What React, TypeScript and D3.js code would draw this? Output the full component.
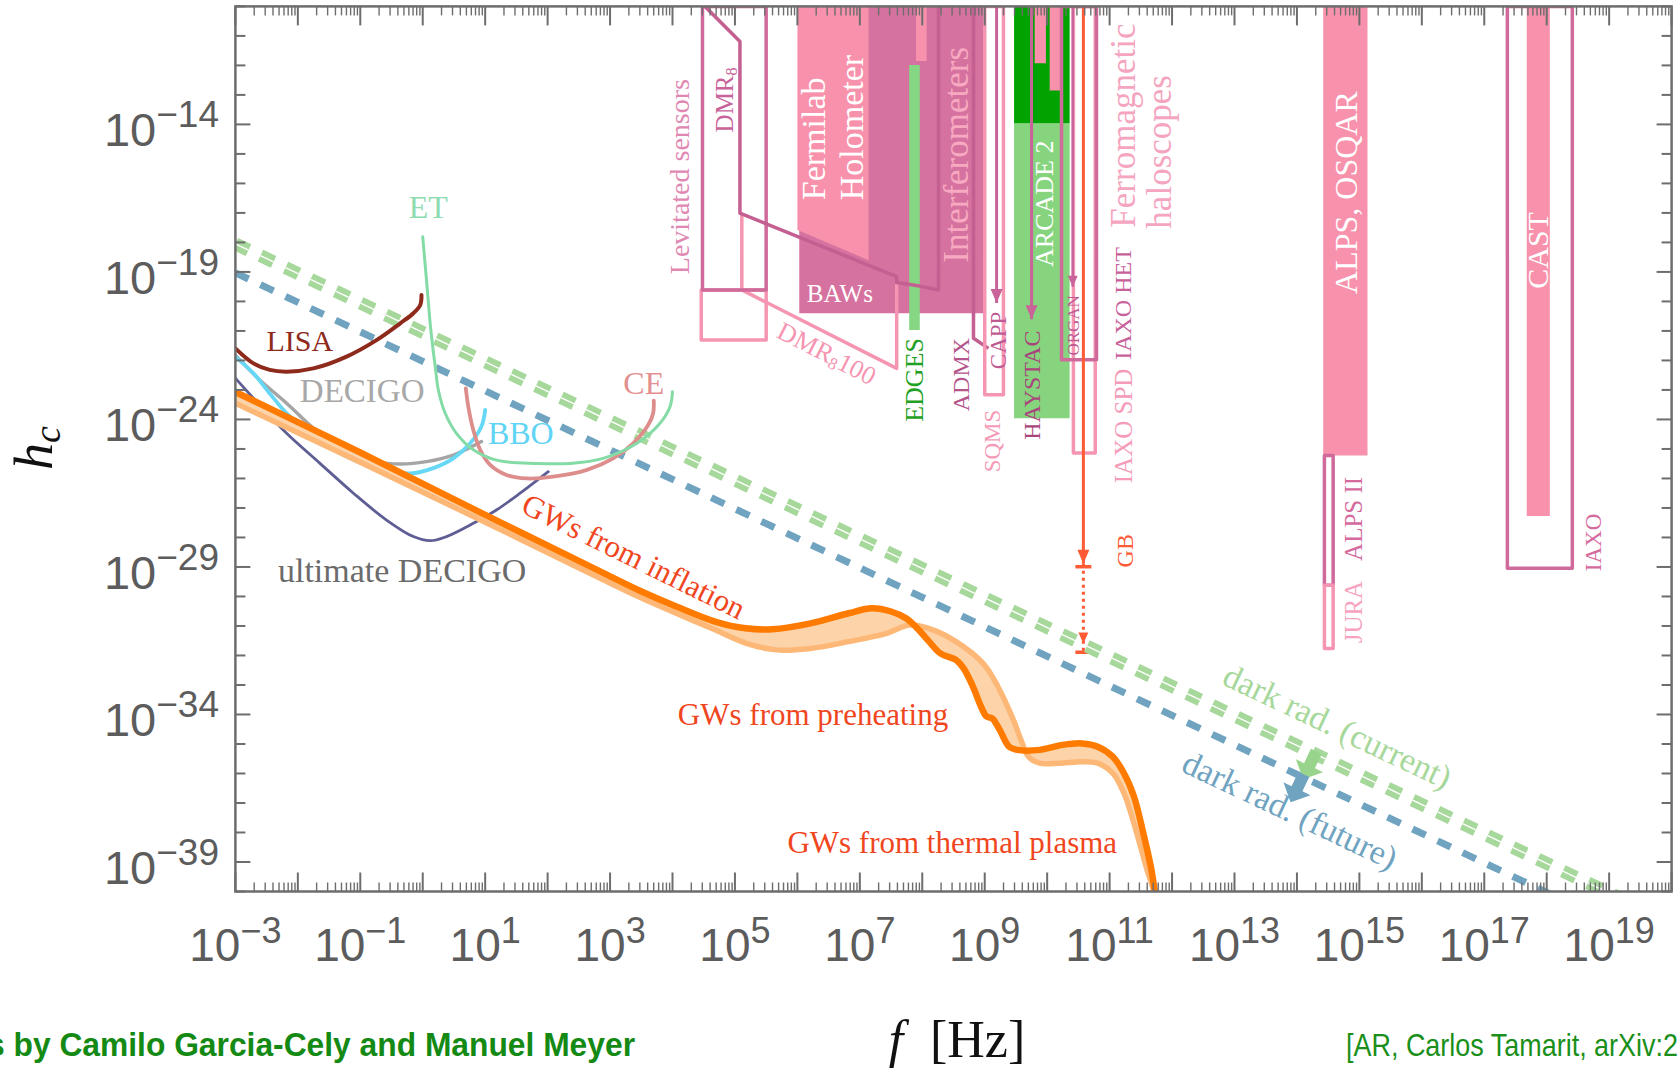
import React from 'react';
import * as d3 from 'd3';

const W = 1678;
const H = 1074;
const frame = { left: 235.4, right: 1671.6, top: 6.4, bottom: 891.5 };

// every point is [log10(f / Hz), log10(h_c)]
const lisa = [[-3.0, -21.59], [-2.71, -22.1], [-2.45, -22.32], [-2.18, -22.38], [-1.75, -22.27], [-1.22, -21.87], [-0.74, -21.31], [-0.36, -20.74], [-0.15, -20.4], [-0.04, -20.12], [-0.02, -19.78]];
const et = [[0.0, -17.81], [0.06, -19.27], [0.13, -20.97], [0.2, -22.21], [0.25, -23.0], [0.36, -23.79], [0.54, -24.47], [0.81, -25.03], [1.18, -25.38], [1.82, -25.49], [2.36, -25.49], [2.89, -25.32], [3.43, -24.81], [3.8, -24.13], [3.96, -23.57], [4.0, -23.06]];
const ce = [[0.69, -22.95], [0.73, -23.57], [0.81, -24.36], [0.92, -25.03], [1.08, -25.54], [1.34, -25.88], [1.67, -26.0], [2.09, -25.94], [2.63, -25.71], [3.05, -25.32], [3.37, -24.81], [3.61, -24.19], [3.69, -23.79], [3.7, -23.36]];
const bbo = [[-3.0, -21.87], [-2.71, -22.44], [-2.45, -23.12], [-2.18, -23.79], [-1.75, -24.58], [-1.22, -25.26], [-0.74, -25.65], [-0.2, -25.83], [0.17, -25.65], [0.49, -25.32], [0.76, -24.81], [0.94, -24.24], [1.0, -23.68]];
const decigo = [[-3.0, -21.83], [-2.93, -21.98], [-2.61, -22.66], [-2.18, -23.45], [-1.65, -24.47], [-1.11, -25.15], [-0.74, -25.43], [-0.36, -25.51], [0.06, -25.43], [0.49, -25.21], [0.94, -24.75]];
const ultimateDecigo = [[-3.0, -22.6], [-2.93, -22.77], [-2.61, -23.51], [-2.18, -24.47], [-1.65, -25.48], [-1.11, -26.5], [-0.58, -27.41], [-0.15, -27.97], [0.12, -28.11], [0.38, -27.97], [0.81, -27.52], [1.18, -27.07], [1.56, -26.5], [2.01, -25.77]];

// GW spectrum band (upper / lower edge)
const gwUpper = [[-3.0, -23.07], [-1.0, -25.12], [0.92, -27.15], [2.84, -29.15], [3.45, -29.78], [4.06, -30.34], [4.68, -30.85], [5.17, -31.08], [5.6, -31.11], [6.21, -30.91], [6.82, -30.57], [7.19, -30.4], [7.5, -30.51], [7.74, -30.74], [7.92, -31.08], [8.11, -31.53], [8.29, -31.93], [8.54, -32.15], [8.66, -32.43], [8.81, -33.05], [8.94, -33.73], [9.03, -34.07], [9.12, -34.13], [9.24, -34.52], [9.39, -35.09], [9.52, -35.2], [9.88, -35.2], [10.25, -35.03], [10.56, -34.98], [10.81, -35.09], [11.05, -35.43], [11.23, -35.99], [11.39, -36.78], [11.54, -38.03], [11.66, -39.16], [11.72, -39.95], [11.75, -40.4]];
const gwLower = [[-3.0, -23.45], [-1.0, -25.45], [0.92, -27.4], [2.84, -29.38], [3.45, -30.0], [4.06, -30.57], [4.68, -31.13], [5.17, -31.58], [5.66, -31.81], [6.21, -31.76], [6.82, -31.53], [7.43, -31.25], [7.8, -30.97], [8.17, -31.13], [8.54, -31.53], [8.97, -32.26], [9.21, -33.05], [9.46, -34.19], [9.58, -34.86], [9.7, -35.43], [9.88, -35.65], [10.19, -35.65], [10.56, -35.6], [10.81, -35.65], [11.05, -35.99], [11.23, -36.67], [11.42, -37.91], [11.6, -39.27], [11.72, -40.06], [11.75, -40.4]];

const darkRadCurrent = [[-3.0, -18.05], [19.5, -40.55]];
const darkRadFuture = [[-3.0, -19.03], [18.5, -40.53]];

// experiments
const levitatedBox = [[4.48, -10], [5.5, -10], [5.5, -19.61], [4.48, -19.61]];
const levitatedFuture = [[4.46, -19.61], [5.5, -19.61], [5.5, -21.31], [4.46, -21.31]];
const dmr8 = [[4.52, -10], [5.08, -11.19], [5.08, -17.01], [7.59, -19.16], [7.59, -19.36], [7.96, -19.48], [8.26, -19.61], [8.26, -10]];
const dmr8x100 = [[5.11, -17.01], [5.11, -19.61], [7.59, -22.27], [7.59, -19.39]];
const fermilab = [[6.0, -10], [7.14, -10], [7.14, -18.6], [6.0, -17.58]];
const baws = [[6.03, -10], [8.98, -10], [8.98, -20.4], [6.03, -20.4]];
const interfBar = [[7.9, -10], [8.07, -10], [8.07, -11.85], [7.9, -11.85]];
const edges = [[7.79, -11.99], [7.96, -11.99], [7.96, -20.97], [7.79, -20.97]];
const admx = [[8.82, -10], [8.82, -21.25], [9.06, -21.59]];
const sqms = [[9.0, -10], [9.3, -10], [9.3, -23.16], [9.0, -23.16]];
const capp = [[9.19, -10], [9.19, -20.05]];
const haystac = [[9.75, -10], [9.75, -20.6]];
const organ = [[10.41, -10], [10.41, -19.5]];
const arcadeStrong = [[9.47, -10], [10.36, -10], [10.36, -13.96], [9.47, -13.96]];
const arcadeWeak = [[9.47, -13.96], [10.36, -13.96], [10.36, -23.96], [9.47, -23.96]];
const arcadeBar1 = [[9.8, -10], [9.98, -10], [9.98, -11.93], [9.8, -11.93]];
const arcadeBar2 = [[10.04, -10], [10.22, -10], [10.22, -12.85], [10.04, -12.85]];
const iaxoHet = [[10.23, -10], [10.79, -10], [10.79, -21.98], [10.23, -21.98]];
const iaxoSpd = [[10.42, -10], [10.77, -10], [10.77, -25.14], [10.42, -25.14]];
const gbSolid = [[10.58, -10], [10.58, -28.89]];
const gbDotted = [[10.58, -28.89], [10.58, -31.89]];
const alpsOsqar = [[14.42, -10], [15.13, -10], [15.13, -25.22], [14.42, -25.22]];
const alpsII = [[14.44, -25.22], [14.58, -25.22], [14.58, -29.62], [14.44, -29.62]];
const jura = [[14.44, -29.62], [14.58, -29.62], [14.58, -31.76], [14.44, -31.76]];
const iaxo = [[17.37, -10], [18.41, -10], [18.41, -29.04], [17.37, -29.04]];
const cast = [[17.68, -10], [18.05, -10], [18.05, -27.27], [17.68, -27.27]];

const xLabelExps = [-3, -1, 1, 3, 5, 7, 9, 11, 13, 15, 17, 19];
const yLabelExps = [-14, -19, -24, -29, -34, -39];

const serif = "'Liberation Serif', 'Times New Roman', serif";
const sans = "'Liberation Sans', Arial, sans-serif";

const darkPink = '#cf6a9b';
const lightPink = '#f595b2';
const fillPink = '#f892ac';
const midPink = '#d6729f';
const gwRed = '#f0461e';

export default function App() {
  const x = d3.scaleLog().domain([1e-3, 1e20]).range([frame.left, frame.right]);
  const y = d3.scaleLog().domain([1e-10, 1e-40]).range([frame.top, frame.bottom]);
  const px = (p) => x(Math.pow(10, p[0]));
  const py = (p) => y(Math.pow(10, p[1]));
  const smooth = d3.line().x(px).y(py).curve(d3.curveCatmullRom.alpha(0.5));
  const straight = d3.line().x(px).y(py);
  const closed = (pts) => straight(pts) + 'Z';

  const upperPath = smooth(gwUpper);
  const lowerRev = smooth([...gwLower].reverse());
  const bandPath = upperPath + 'L' + lowerRev.slice(1) + 'Z';

  const arrowDown = (p, color, w = 6, len = 14) => {
    const X = px(p), Y = py(p);
    return <polygon points={`${X},${Y} ${X - w},${Y - len} ${X + w},${Y - len}`} fill={color} />;
  };

  // block arrow pointing away from a dark-radiation line, perpendicular to it
  const perpArrow = (seg, lf, color) => {
    const a = [px(seg[0]), py(seg[0])];
    const b = [px(seg[1]), py(seg[1])];
    const ang = Math.atan2(b[1] - a[1], b[0] - a[0]);
    const t = (lf - seg[0][0]) / (seg[1][0] - seg[0][0]);
    const X = a[0] + t * (b[0] - a[0]);
    const Y = a[1] + t * (b[1] - a[1]);
    const nx = -Math.sin(ang), ny = Math.cos(ang);
    const tx = Math.cos(ang), ty = Math.sin(ang);
    const sh = 13, head = 15, hw = 15, sw = 6;
    const p = (d, s) => `${X + nx * d + tx * s},${Y + ny * d + ty * s}`;
    return (
      <polygon
        points={[p(-3, -sw), p(sh, -sw), p(sh, -hw), p(sh + head, 0), p(sh, hw), p(sh, sw), p(-3, sw)].join(' ')}
        fill={color}
      />
    );
  };

  const label = (key, at, text, opts) => {
    const { size = 30, color = '#333', rot = 0, font = serif, weight = 'normal', anchor = 'middle' } = opts;
    const X = px(at), Y = py(at);
    return (
      <text key={key} transform={`translate(${X},${Y}) rotate(${rot})`} textAnchor={anchor}
        dominantBaseline="central" fontFamily={font} fontSize={size} fill={color} fontWeight={weight}>
        {text}
      </text>
    );
  };

  const xMajor = d3.range(-3, 21);
  const xMinor = d3.range(-3, 20).flatMap((k) => d3.range(2, 10).map((m) => Math.log10(m) + k));
  const yMajor = d3.range(-40, -9);
  const tickColor = '#6d6d6d';
  const slope = (Math.atan2(py([1, -11]) - py([0, -10]), px([1, -11]) - px([0, -10])) * 180) / Math.PI;

  return (
    <svg width={W} height={H} style={{ position: 'absolute', left: 0, top: 0, background: '#fff' }}>
      <defs>
        <clipPath id="plotArea">
          <rect x={frame.left} y={frame.top} width={frame.right - frame.left} height={frame.bottom - frame.top} />
        </clipPath>
      </defs>

      <g clipPath="url(#plotArea)">
        {/* filled experiment regions */}
        <path d={closed(baws)} fill={midPink} />
        <path d={closed(fermilab)} fill={fillPink} />
        <path d={closed(interfBar)} fill={fillPink} />
        <path d={closed(edges)} fill="#86d783" />
        <path d={closed(arcadeWeak)} fill="#86d47e" />
        <path d={closed(arcadeStrong)} fill="#00a300" />
        <path d={closed(arcadeBar1)} fill={fillPink} />
        <path d={closed(arcadeBar2)} fill={fillPink} />
        <path d={closed(alpsOsqar)} fill={fillPink} />
        <path d={closed(cast)} fill={fillPink} />

        {/* outlined experiment regions */}
        <g fill="none" strokeWidth={3.5} strokeLinejoin="round">
          <path d={closed(levitatedFuture)} stroke={lightPink} />
          <path d={straight(dmr8x100)} stroke={lightPink} />
          <path d={closed(levitatedBox)} stroke={darkPink} />
          <path d={straight(dmr8)} stroke="#c45f92" />
          <path d={straight(admx)} stroke="#c45f92" />
          <path d={closed(sqms)} stroke={lightPink} />
          <path d={closed(iaxoSpd)} stroke={lightPink} />
          <path d={closed(iaxoHet)} stroke={darkPink} />
          <path d={closed(alpsII)} stroke={darkPink} />
          <path d={closed(jura)} stroke={lightPink} />
          <path d={closed(iaxo)} stroke={darkPink} />
          <path d={straight(capp)} stroke="#c9649a" strokeWidth={3} />
          <path d={straight(haystac)} stroke="#c9649a" strokeWidth={3} />
          <path d={straight(organ)} stroke="#c9649a" strokeWidth={2.5} />
        </g>
        {arrowDown(capp[1], '#c9649a')}
        {arrowDown(haystac[1], '#c9649a')}
        {arrowDown(organ[1], '#c9649a', 5, 11)}

        {/* GB */}
        <path d={straight(gbSolid)} stroke="#ff5a36" strokeWidth={3} fill="none" />
        {arrowDown(gbSolid[1], '#ff5a36', 6, 14)}
        <line x1={px(gbSolid[1]) - 8} x2={px(gbSolid[1]) + 8} y1={py(gbSolid[1]) + 3} y2={py(gbSolid[1]) + 3} stroke="#ff5a36" strokeWidth={3.5} />
        <path d={straight(gbDotted)} stroke="#ff5a36" strokeWidth={3} strokeDasharray="3 4" fill="none" />
        {arrowDown([gbDotted[1][0], gbDotted[1][1] + 0.3], '#ff5a36', 5, 11)}
        <line x1={px(gbDotted[1]) - 8} x2={px(gbDotted[1]) + 8} y1={py(gbDotted[1])} y2={py(gbDotted[1])} stroke="#ff5a36" strokeWidth={3.5} />

        {/* dark radiation bounds */}
        <path d={straight(darkRadCurrent)} stroke="#a7d89b" strokeWidth={13} strokeDasharray="14.5 13.2" fill="none" />
        <path d={straight(darkRadCurrent)} stroke="#ffffff" strokeWidth={1.4} strokeDasharray="14.5 13.2" fill="none" />
        <path d={straight(darkRadFuture)} stroke="#6fa3bf" strokeWidth={7} strokeDasharray="14.5 13.2" fill="none" />
        {perpArrow(darkRadCurrent, 14.29, '#98d48b')}
        {perpArrow(darkRadFuture, 14.09, '#6fa3bf')}

        {/* detector sensitivity curves */}
        <g fill="none" strokeLinecap="round">
          <path d={smooth(decigo)} stroke="#a5a5a5" strokeWidth={3.5} />
          <path d={smooth(ultimateDecigo)} stroke="#5e5e95" strokeWidth={2.8} />
          <path d={smooth(bbo)} stroke="#66d8f6" strokeWidth={3.8} />
          <path d={smooth(ce)} stroke="#dd8e8c" strokeWidth={3.8} />
          <path d={smooth(et)} stroke="#84dba6" strokeWidth={3} />
          <path d={smooth(lisa)} stroke="#8e2a1c" strokeWidth={4} />
        </g>

        {/* GW band */}
        <path d={bandPath} fill="#fdd3a9" />
        <path d={smooth(gwLower)} stroke="#fdb877" strokeWidth={5.5} fill="none" />
        <path d={smooth(gwUpper)} stroke="#ff7b00" strokeWidth={6.5} fill="none" />
      </g>

      {/* labels */}
      <g>
        {label('lisa', [-1.97, -21.31], 'LISA', { size: 30, color: '#8e2a1c' })}
        {label('decigo', [-0.97, -23.02], 'DECIGO', { size: 33, color: '#a8a8a8' })}
        {label('bbo', [1.57, -24.47], 'BBO', { size: 32, color: '#5fd4f4' })}
        {label('et', [0.09, -16.8], 'ET', { size: 32, color: '#8ddcb0' })}
        {label('ce', [3.54, -22.77], 'CE', { size: 32, color: '#e39090' })}
        {label('udecigo', [-0.33, -29.13], 'ultimate DECIGO', { size: 34, color: '#6b6b6b' })}
        {label('infl', [3.38, -28.64], 'GWs from inflation', { size: 31, color: gwRed, rot: slope * 1.04 })}
        {label('preh', [6.25, -34.01], 'GWs from preheating', { size: 31, color: gwRed })}
        {label('therm', [8.48, -38.33], 'GWs from thermal plasma', { size: 31, color: gwRed })}
        {label('drc', [14.65, -34.4], 'dark rad. (current)', { size: 34, color: '#a7d89b', rot: slope })}
        {label('drf', [13.89, -37.24], 'dark rad. (future)', { size: 34, color: '#6fa3bf', rot: slope })}

        {label('lev', [4.12, -15.77], 'Levitated sensors', { size: 28, color: '#e088b2', rot: -90 })}
        <text transform={`translate(${px([4.84, -13.17])},${py([4.84, -13.17])}) rotate(-90)`} textAnchor="middle"
          dominantBaseline="central" fontFamily={serif} fontSize={25} fill="#c9649a">
          DMR<tspan fontSize={16} dy={6}>8</tspan>
        </text>
        <text transform={`translate(${px([6.47, -21.76])},${py([6.47, -21.76])}) rotate(27)`} textAnchor="middle"
          dominantBaseline="central" fontFamily={serif} fontSize={26} fill="#f595b2">
          DMR<tspan fontSize={17} dy={6}>8</tspan><tspan dy={-6}>100</tspan>
        </text>
        <text transform={`translate(${px([6.25, -16.57])},${py([6.25, -16.57])}) rotate(-90)`} dominantBaseline="central"
          fontFamily={serif} fontSize={34} fill="#fff">Fermilab</text>
        <text transform={`translate(${px([6.87, -16.57])},${py([6.87, -16.57])}) rotate(-90)`} dominantBaseline="central"
          fontFamily={serif} fontSize={34} fill="#fff">Holometer</text>
        {label('baws', [6.68, -19.72], 'BAWs', { size: 25, color: '#fff' })}
        {label('interf', [8.55, -15.03], 'Interferometers', { size: 35, color: '#f6a9c1', rot: -90 })}
        {label('edges', [7.88, -22.66], 'EDGES', { size: 26, color: '#22a022', rot: -90 })}
        {label('admx', [8.62, -22.48], 'ADMX', { size: 24, color: '#b4558b', rot: -90 })}
        {label('sqms', [9.13, -24.73], 'SQMS', { size: 23, color: '#f59ab8', rot: -90 })}
        {label('capp', [9.22, -21.32], 'CAPP', { size: 23, color: '#c05a92', rot: -90 })}
        {label('haystac', [9.75, -22.84], 'HAYSTAC', { size: 24, color: '#a8467c', rot: -90 })}
        {label('arcade', [9.96, -16.69], 'ARCADE 2', { size: 26, color: '#fff', rot: -90 })}
        {label('organ', [10.42, -20.81], 'ORGAN', { size: 17, color: '#c05a92', rot: -90 })}
        {label('iaxospd', [11.22, -24.22], 'IAXO SPD', { size: 25, color: '#f59ab8', rot: -90 })}
        {label('iaxohet', [11.22, -20.07], 'IAXO HET', { size: 24, color: '#c8609a', rot: -90 })}
        {label('ferro', [11.22, -14.04], 'Ferromagnetic', { size: 35, color: '#f5a5c0', rot: -90 })}
        {label('halo', [11.8, -14.93], 'haloscopes', { size: 35, color: '#f5a5c0', rot: -90 })}
        {label('gb', [11.24, -28.45], 'GB', { size: 24, color: '#ff5a36', rot: -90 })}
        {label('alps', [14.79, -16.31], 'ALPS, OSQAR', { size: 32, color: '#fff', rot: -90 })}
        {label('alps2', [14.9, -27.37], 'ALPS II', { size: 25, color: '#d46a9e', rot: -90 })}
        {label('jura', [14.9, -30.53], 'JURA', { size: 25, color: '#f7a3bf', rot: -90 })}
        {label('cast', [17.86, -18.27], 'CAST', { size: 30, color: '#fff', rot: -90 })}
        {label('iaxo', [18.75, -28.17], 'IAXO', { size: 23, color: '#d46a9e', rot: -90 })}
      </g>

      {/* frame and ticks */}
      <g stroke={tickColor}>
        {xMajor.map((k) => {
          const X = x(Math.pow(10, k));
          return (
            <g key={'xM' + k} strokeWidth={2}>
              <line x1={X} x2={X} y1={frame.bottom} y2={frame.bottom - 19} />
              <line x1={X} x2={X} y1={frame.top} y2={frame.top + 19} />
            </g>
          );
        })}
        {xMinor.map((k, i) => {
          const X = x(Math.pow(10, k));
          return (
            <g key={'xm' + i} strokeWidth={1.4}>
              <line x1={X} x2={X} y1={frame.bottom} y2={frame.bottom - 9} />
              <line x1={X} x2={X} y1={frame.top} y2={frame.top + 9} />
            </g>
          );
        })}
        {yMajor.map((k) => {
          const Y = y(Math.pow(10, k));
          const len = yLabelExps.includes(k) ? 15 : 10;
          return (
            <g key={'y' + k} strokeWidth={2}>
              <line x1={frame.left} x2={frame.left + len} y1={Y} y2={Y} />
              <line x1={frame.right} x2={frame.right - len} y1={Y} y2={Y} />
            </g>
          );
        })}
        <rect x={frame.left} y={frame.top} width={frame.right - frame.left} height={frame.bottom - frame.top}
          fill="none" strokeWidth={2.5} />
      </g>

      {/* tick labels */}
      <g fontFamily={sans} fill="#5c5c5c">
        {xLabelExps.map((k) => (
          <text key={'xl' + k} x={x(Math.pow(10, k))} y={961} textAnchor="middle" fontSize={46}>
            10<tspan dy={-18} fontSize={36}>{String(k).replace('-', '\u2212')}</tspan>
          </text>
        ))}
        {yLabelExps.map((k) => (
          <text key={'yl' + k} x={219} y={y(Math.pow(10, k)) + 22} textAnchor="end" fontSize={47}>
            10<tspan dy={-19} fontSize={37}>{String(k).replace('-', '\u2212')}</tspan>
          </text>
        ))}
      </g>

      {/* axis titles */}
      <text x={896} y={1057} textAnchor="middle" fontFamily={serif} fontStyle="italic" fontSize={52} fill="#111">f</text>
      <text x={930} y={1057} fontFamily={serif} fontSize={52} fill="#111">[Hz]</text>
      <text transform="translate(52,448) rotate(-90)" textAnchor="middle" fontFamily={serif} fontStyle="italic" fontSize={54} fill="#111">
        h<tspan fontSize={38} dy={8}>c</tspan>
      </text>

      {/* credits, clipped by the page edge as in the original slide */}
      <text x={-13} y={1056} fontFamily={sans} fontWeight="bold" fontSize={34} fill="#148a14"
        textLength={648} lengthAdjust="spacingAndGlyphs">s by Camilo Garcia-Cely and Manuel Meyer</text>
      <text x={1346} y={1056} fontFamily={sans} fontSize={32} fill="#1a8f1a"
        textLength={332} lengthAdjust="spacingAndGlyphs">[AR, Carlos Tamarit, arXiv:2</text>
    </svg>
  );
}
